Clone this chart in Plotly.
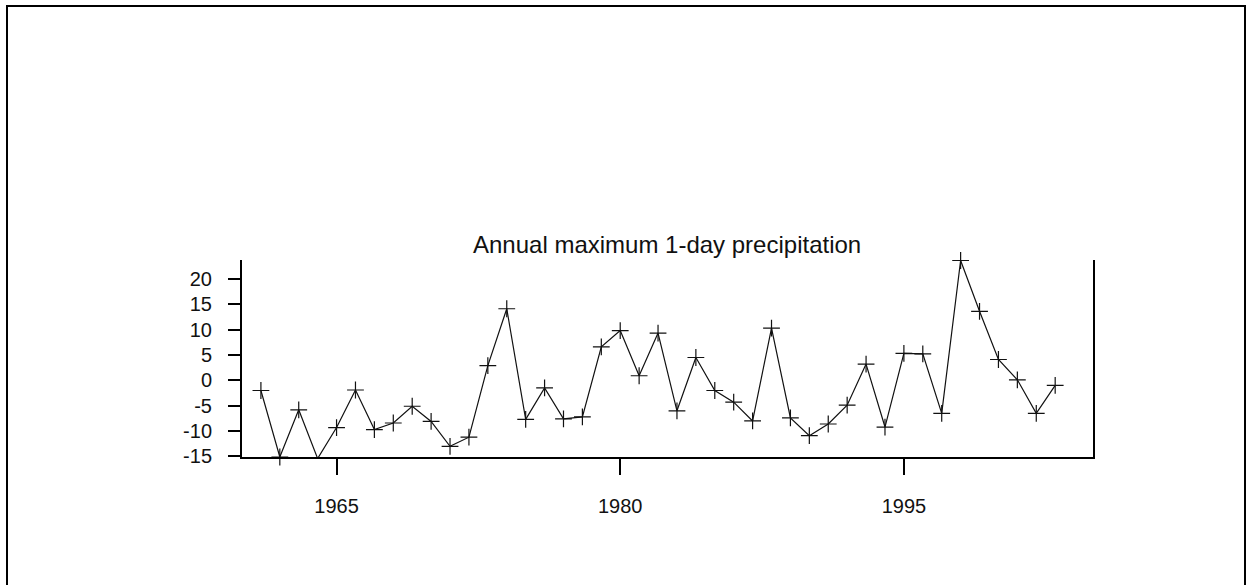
import plotly.graph_objects as go

# Annual maximum 1-day precipitation anomalies
years = [1961, 1962, 1963, 1964, 1965, 1966, 1967, 1968, 1969, 1970,
         1971, 1972, 1973, 1974, 1975, 1976, 1977, 1978, 1979, 1980,
         1981, 1982, 1983, 1984, 1985, 1986, 1987, 1988, 1989, 1990,
         1991, 1992, 1993, 1994, 1995, 1996, 1997, 1998, 1999, 2000,
         2001, 2002, 2003]
rx1day = [-2.0, -15.1, -5.8, -15.4, -9.3, -1.9, -9.7, -8.4, -5.1, -8.1,
          -13.0, -11.2, 2.9, 14.1, -7.7, -1.5, -7.6, -7.2, 6.6, 9.8,
          0.9, 9.3, -6.0, 4.5, -2.0, -4.3, -8.0, 10.3, -7.4, -10.9,
          -8.6, -4.9, 3.2, -9.2, 5.3, 5.2, -6.5, 23.6, 13.6, 4.1,
          0.1, -6.5, -1.0]

x_ticks = [1965, 1980, 1995]
y_ticks = [-15, -10, -5, 0, 5, 10, 15, 20]
y_tick_text = ["-15", "-10", "-5", "0", "5", "10", "15", "20"]
title_text = "Annual maximum 1-day precipitation"

W, H = 1247, 585
L, R, T, B = 242, 154, 260, 128
pw, ph = W - L - R, H - T - B


def px_x(p):
    return (p - L) / pw


def px_y(p):
    return (H - B - p) / ph


fig = go.Figure()
fig.add_trace(go.Scatter(
    x=years, y=rx1day, mode="lines+markers",
    line=dict(color="#111111", width=1.2),
    marker=dict(symbol="cross-thin-open", size=12,
                line=dict(color="#111111", width=1.2)),
    cliponaxis=False, showlegend=False,
))

tick_font = dict(family="Liberation Sans, Arial, sans-serif", size=20, color="#111111")

fig.update_layout(
    width=W, height=H,
    margin=dict(l=L, r=R, t=T, b=B),
    paper_bgcolor="white", plot_bgcolor="white",
    xaxis=dict(
        range=[1960, 2005], tickvals=x_ticks, ticktext=[str(v) for v in x_ticks],
        ticks="outside", ticklen=16, tickwidth=1.5, tickcolor="black",
        showline=True, linecolor="black", linewidth=2,
        showgrid=False, zeroline=False, tickfont=tick_font,
        ticklabelstandoff=14,
    ),
    yaxis=dict(
        range=[-15.1, 23.7], tickvals=y_ticks, ticktext=y_tick_text,
        ticks="outside", ticklen=12, tickwidth=1.5, tickcolor="black",
        showline=True, linecolor="black", linewidth=2, mirror=True,
        showgrid=False, zeroline=False, tickfont=tick_font,
        ticklabelstandoff=12,
    ),
    annotations=[dict(
        text=title_text, xref="paper", yref="paper",
        x=px_x(666.5), y=px_y(244), xanchor="center", yanchor="middle",
        showarrow=False,
        font=dict(family="Liberation Sans, Arial, sans-serif",
                  size=24, color="#111111"),
    )],
    shapes=[dict(
        type="rect", xref="paper", yref="paper",
        x0=px_x(7), x1=px_x(1245), y0=px_y(592), y1=px_y(6),
        line=dict(color="black", width=2), fillcolor="rgba(0,0,0,0)",
        layer="below",
    )],
)

fig.write_html("out.html")
